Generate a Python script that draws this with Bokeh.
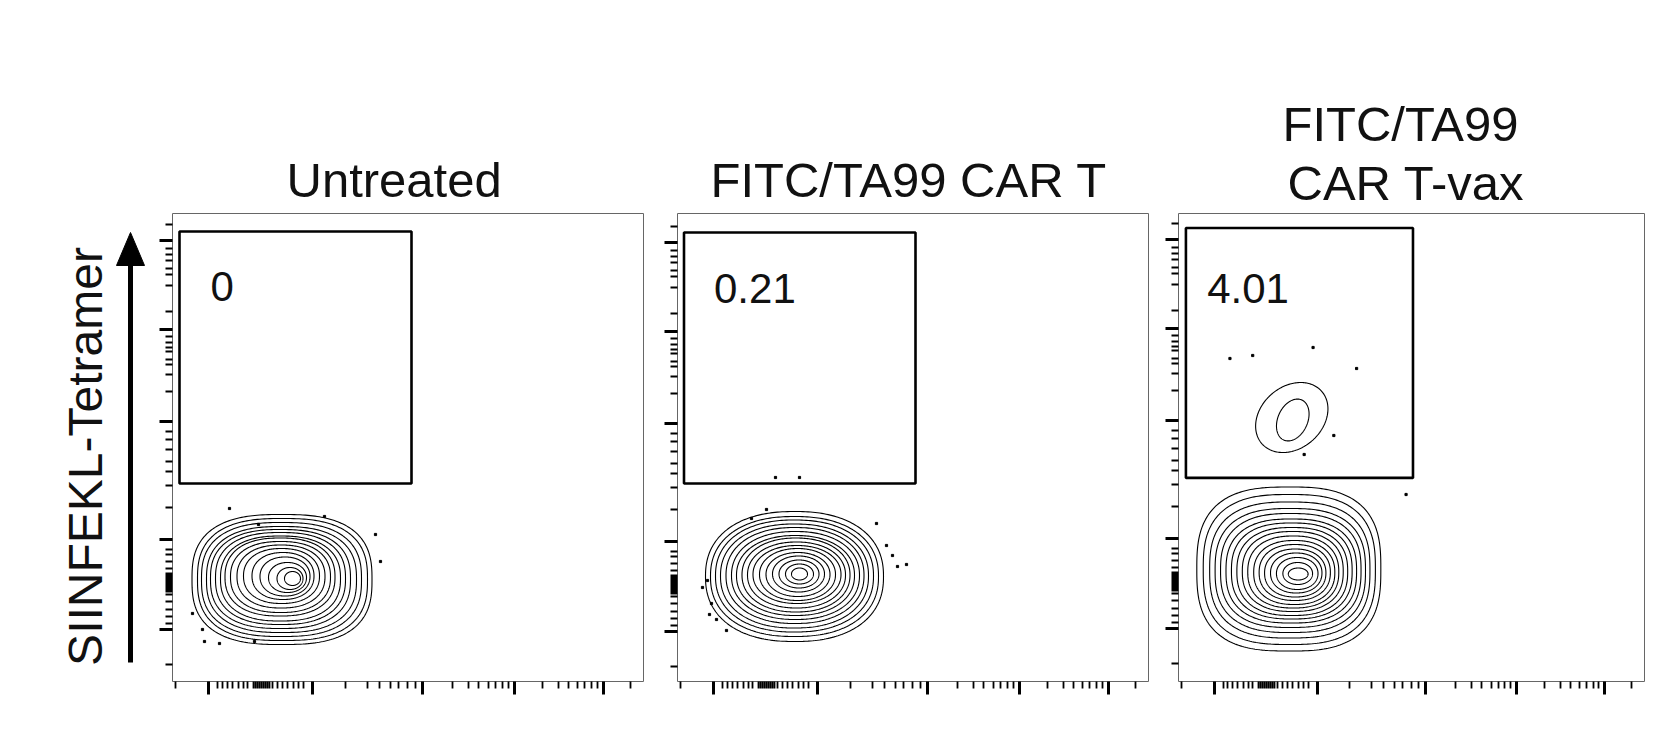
import numpy as np
from bokeh.plotting import figure
from bokeh.layouts import row
from bokeh.models import Range1d, FixedTicker, Title, CustomJSTickFormatter
from bokeh.core.properties import value
from bokeh.embed import file_html
from bokeh.resources import INLINE

FONT = "Liberation Sans"

# ---------------- data (display units = pixel offsets inside each frame) ----
AXIS_LABEL = "SIINFEKL-Tetramer"
TITLES = [["Untreated"], ["FITC/TA99 CAR T"], ["FITC/TA99", "CAR T-vax"]]
GATE_PCT = ["0", "0.21", "4.01"]
GATE_LEFT = [7, 6.5, 7.5]
GATE_RIGHT = [239, 238, 237]
GATE_BOTTOM = [196, 198, 200.6]
GATE_TOP = [448, 449, 450.5]
PCT_X = [38, 36.5, 29]
PCT_Y = [393, 393, 390]

# axis ticks (biexponential display positions)
X_MAJOR = [36, 140, 250, 342, 431]
X_MINOR = [3, 45, 50, 55, 60, 66, 71, 75, 81, 83, 85, 87, 89, 91, 93, 95, 97,
           100, 105, 110, 115, 121, 126, 131, 173, 195, 207, 218, 226, 235, 243,
           280, 296, 306, 316, 323, 330, 336, 370, 386, 396, 405, 412, 419, 425, 458]
Y_MAJOR = [50, 140, 258, 350, 439]
Y_MINOR = [15, 56, 63, 70, 78, 85, 88, 90, 92, 94, 96, 98, 100, 102, 104, 106,
           111, 118, 125, 130, 172, 194, 208, 218, 230, 240, 248, 288, 305, 315,
           320, 328, 332, 337, 343, 368, 394, 405, 411, 419, 425, 431, 455]

# contour rings of the tetramer-negative population: centre and half-widths
P1_CX = [109.5, 110, 109, 109, 108, 108, 108, 107.5, 108, 108.5, 109, 110.5, 112.5, 115, 117.5, 120]
P1_CY = [100, 100, 100, 100, 100.5, 101, 101, 102.5, 102.5, 103, 103.5, 103.5, 103, 102, 101, 101]
P1_RX = [90, 85, 80, 75, 70, 65, 60, 55, 50, 44, 38, 31, 25, 19, 13, 8]
P1_RY = [65, 61, 57, 53, 49.5, 46, 42.5, 39, 35.5, 31.5, 27.5, 23.5, 19.5, 15, 11, 7]

P2_CX = [117, 117, 117, 117, 117.5, 118, 118, 118.5, 119, 119.5, 120, 120.5, 121, 121.5, 122, 122]
P2_CY = [105, 105, 105.5, 105.5, 106, 106, 106, 106.5, 106.5, 107, 107, 107, 107.5, 107.5, 107.5, 107.5]
P2_RX = [89, 84, 79, 74, 69, 64, 59, 54, 49, 44, 38, 32, 26, 20, 14, 8]
P2_RY = [65, 60, 56, 52, 48, 44, 40, 37, 33, 29, 26, 22, 18, 14, 10, 6]

P3_CX = [111.5, 112, 112.5, 113, 113.5, 114, 114.5, 115, 115.5, 116, 117, 117.5, 118, 119, 120, 120.5, 121]
P3_CY = [109.5, 109, 108.5, 108, 108, 107.5, 107.5, 107, 107, 106.5, 106, 106, 105.5, 105.5, 105, 105, 104.5]
P3_RX = [93, 87, 81, 76, 71, 66, 61, 56, 51, 46, 41, 36, 31, 26, 21, 15, 10]
P3_RY = [82, 75, 68, 62, 57, 52, 48, 44, 40, 36, 32, 28, 24, 20, 16, 11, 6]

# tetramer-positive population (panel 3): rotated ellipses
POS_CX = [114.5, 115.5]
POS_CY = [261, 258.5]
POS_A = [40, 22]
POS_B = [31, 15]
POS_ROT = [40, 65]

# single events
P1_DX = [57, 203, 208, 20, 30, 32, 47, 152, 82, 86]
P1_DY = [171, 145, 118, 66, 50, 38, 36, 163, 38, 155]
P2_DX = [98, 122, 89, 74, 199, 209, 215, 220, 229, 30, 25, 34, 32, 39, 49]
P2_DY = [204, 204, 172, 163, 158, 136, 126, 115, 117, 101, 94, 78, 67, 62, 51]
P3_DX = [52, 75, 136, 180, 157, 127, 230]
P3_DY = [320, 323, 331, 310, 243, 224, 184]

RINGS = [(P1_CX, P1_CY, P1_RX, P1_RY), (P2_CX, P2_CY, P2_RX, P2_RY), (P3_CX, P3_CY, P3_RX, P3_RY)]
DOTS = [(P1_DX, P1_DY), (P2_DX, P2_DY), (P3_DX, P3_DY)]

# ---------------- layout / style ----------------
LABEL_W = 152
FRAME_W = [471, 471, 466]
FRAME_H = 468
MB_LEFT = [20, 20, 20]
MB_RIGHT = [14, 10, 10]
MB_TOP = 213
TOTAL_H = 705
Y_START = [-2, 0, -3]          # small per-panel shift of the data inside the aligned frames
OUTER_N = [2.7, 2.3, 2.8]
TITLE_LEFT = [[114], [33], [104, 109]]
TITLE_STANDOFF = [14, 14, 7]


def superellipse(cx, cy, rx, ry, n, m=260):
    t = np.linspace(0, 2 * np.pi, m)
    c, s = np.cos(t), np.sin(t)
    e = 2.0 / n
    return (cx + rx * np.sign(c) * np.abs(c) ** e,
            cy + ry * np.sign(s) * np.abs(s) ** e)


def rot_ellipse(cx, cy, a, b, deg, m=200):
    t = np.linspace(0, 2 * np.pi, m)
    th = np.radians(deg)
    x, y = a * np.cos(t), b * np.sin(t)
    return (cx + x * np.cos(th) - y * np.sin(th),
            cy + x * np.sin(th) + y * np.cos(th))


def style_axis(ax, major, minor):
    ax.ticker = FixedTicker(ticks=major, minor_ticks=minor)
    ax.formatter = CustomJSTickFormatter(code="return ''")
    ax.major_label_text_font_size = "0px"
    ax.major_label_standoff = 0
    ax.axis_line_color = None
    ax.major_tick_in = 0
    ax.minor_tick_in = 0
    ax.major_tick_out = 13
    ax.minor_tick_out = 7
    ax.major_tick_line_width = 3
    ax.minor_tick_line_width = 1.8
    ax.major_tick_line_color = "black"
    ax.minor_tick_line_color = "black"


# label + arrow figure: frame aligned with the panels, units = pixels
pa = figure(frame_width=LABEL_W, frame_height=FRAME_H,
            x_range=Range1d(0, LABEL_W), y_range=Range1d(0, FRAME_H),
            min_border_left=0, min_border_right=0, min_border_top=MB_TOP,
            min_border_bottom=TOTAL_H - MB_TOP - FRAME_H,
            x_axis_type=None, y_axis_type=None, title=None,
            output_backend="svg", toolbar_location=None)
pa.grid.visible = False
pa.outline_line_color = None
pa.text(x=[85], y=[225], text=[AXIS_LABEL], angle=np.pi / 2, text_align="center",
        text_baseline="alphabetic", text_font=value(FONT), text_font_size="48px",
        text_color="#111111")
pa.segment(x0=[130], y0=[19], x1=[130], y1=[419], line_width=5, line_color="black")
pa.patch(x=[116, 144, 130], y=[416, 416, 449], fill_color="black", line_color="black")

figs = [pa]
for i in range(3):
    p = figure(frame_width=FRAME_W[i], frame_height=FRAME_H,
               min_border_left=MB_LEFT[i], min_border_right=MB_RIGHT[i],
               min_border_top=MB_TOP, min_border_bottom=TOTAL_H - MB_TOP - FRAME_H,
               x_range=Range1d(0, 471), y_range=Range1d(Y_START[i], Y_START[i] + FRAME_H),
               output_backend="svg", toolbar_location=None, title=None)
    lines = TITLES[i]
    for j in range(len(lines) - 1, -1, -1):
        p.add_layout(Title(text=lines[j], align="left", text_font=FONT,
                           text_font_size="49px", text_font_style="normal",
                           text_color="#111111",
                           standoff=TITLE_STANDOFF[i] if j == len(lines) - 1 else 0,
                           offset=TITLE_LEFT[i][j]), "above")
    p.grid.visible = False
    p.outline_line_color = "#666666"
    p.outline_line_width = 1
    p.background_fill_color = "white"
    style_axis(p.xaxis[0], X_MAJOR, X_MINOR)
    style_axis(p.yaxis[0], Y_MAJOR, Y_MINOR)

    cx, cy, rx, ry = RINGS[i]
    k = len(cx)
    xs, ys = [], []
    for r in range(k):
        n = OUTER_N[i] + (2.0 - OUTER_N[i]) * r / (k - 1)
        x, y = superellipse(cx[r], cy[r], rx[r], ry[r], n)
        xs.append(x)
        ys.append(y)
    if i == 2:
        for r in range(len(POS_CX)):
            x, y = rot_ellipse(POS_CX[r], POS_CY[r], POS_A[r], POS_B[r], POS_ROT[r])
            xs.append(x)
            ys.append(y)
    p.multi_line(xs=xs, ys=ys, line_color="black", line_width=1.1)

    dx, dy = DOTS[i]
    p.scatter(x=dx, y=dy, marker="square", size=2.2, color="black")

    p.quad(left=[GATE_LEFT[i]], right=[GATE_RIGHT[i]], bottom=[GATE_BOTTOM[i]], top=[GATE_TOP[i]],
           fill_color=None, line_color="black", line_width=2.6)
    p.text(x=[PCT_X[i]], y=[PCT_Y[i]], text=[GATE_PCT[i]], text_font=value(FONT),
           text_font_size="42px", text_baseline="alphabetic", text_align="left",
           text_color="#111111")
    figs.append(p)

layout = row(*figs, spacing=0)
open("out.html", "w").write(file_html(layout, INLINE))
